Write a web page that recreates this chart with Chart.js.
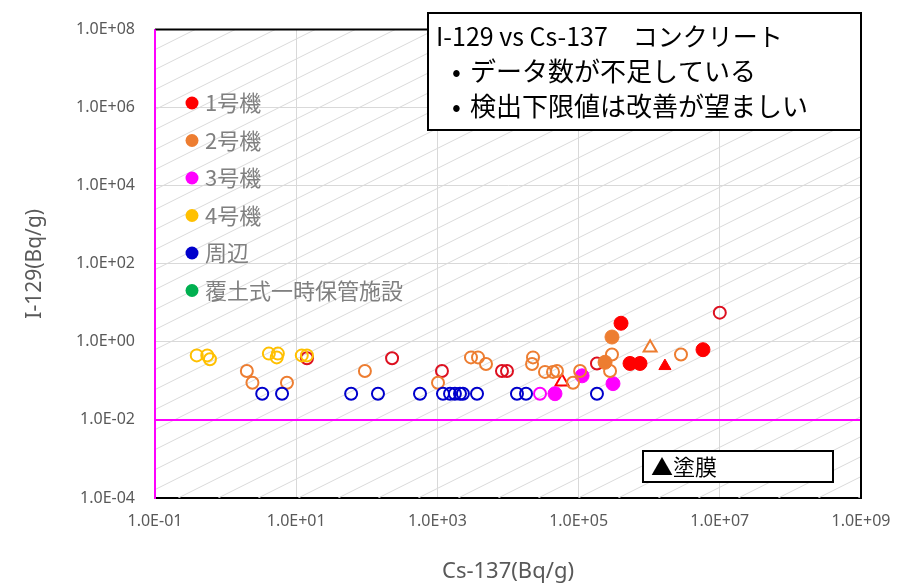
<!DOCTYPE html>
<html lang="ja">
<head>
<meta charset="utf-8">
<script src="https://cdn.jsdelivr.net/npm/chart.js@4.4.1/dist/chart.umd.min.js"></script>
<style>
  html, body { margin: 0; padding: 0; background: #fff; }
</style>
</head>
<body>
<canvas id="chartIodo" width="915" height="587"></canvas>
<script>
// ejes
const xTicks = [1e-1, 1e1, 1e3, 1e5, 1e7, 1e9];
const xTickLabels = ['1.0E-01', '1.0E+01', '1.0E+03', '1.0E+05', '1.0E+07', '1.0E+09'];
const yTicks = [1e-4, 1e-2, 1e0, 1e2, 1e4, 1e6, 1e8];
const yTickLabels = ['1.0E-04', '1.0E-02', '1.0E+00', '1.0E+02', '1.0E+04', '1.0E+06', '1.0E+08'];
const limiteDeteccion = 1e-2;

const nombres = ['1号機', '2号機', '3号機', '4号機', '周辺', '覆土式一時保管施設'];
const colores = ['#FF0000', '#ED7D31', '#FF00FF', '#FFC000', '#0000CC', '#00B050'];

// [Cs-137, I-129]
const unidad1Abierto = [[14.2, 0.38], [228, 0.38], [1160, 0.18], [8220, 0.18], [9680, 0.18], [182000, 0.28], [1.0e7, 5.6]];
const unidad1Lleno = [[399000, 3.0], [535000, 0.28], [741000, 0.28], [5.78e6, 0.63]];
const unidad1TriAbierto = [[58200, 0.095]];
const unidad1TriLleno = [[1.67e6, 0.24]];

const unidad2Abierto = [[2.0, 0.18], [2.4, 0.09], [7.4, 0.09], [94, 0.18], [1020, 0.09], [2990, 0.40], [3760, 0.40],
  [4880, 0.27], [22600, 0.40], [21900, 0.27], [33400, 0.17], [43400, 0.17], [49400, 0.18], [83400, 0.09],
  [105000, 0.18], [297000, 0.475], [279000, 0.18], [2.82e6, 0.475]];
const unidad2Lleno = [[297000, 1.33], [237000, 0.30]];
const unidad2TriAbierto = [[1.03e6, 0.71]];

const unidad3Abierto = [[28400, 0.047]];
const unidad3Lleno = [[46300, 0.047], [112000, 0.135], [307000, 0.085]];

const unidad4Abierto = [[0.39, 0.45], [0.55, 0.45], [0.60, 0.36], [4.1, 0.5], [5.5, 0.5], [5.3, 0.40], [12, 0.45], [14.2, 0.45]];

const alrededorAbierto = [[3.3, 0.047], [6.3, 0.047], [60, 0.047], [144, 0.047], [567, 0.047], [1200, 0.047], [1510, 0.047],
  [1770, 0.047], [2090, 0.047], [2300, 0.047], [3640, 0.047], [13400, 0.047], [18000, 0.047], [182000, 0.047]];
const almacenAbierto = [];

function puntos(lista) {
  return lista.map(p => ({ x: p[0], y: p[1] }));
}

function serie(lista, color, forma, lleno) {
  return {
    data: puntos(lista),
    pointStyle: forma,
    pointRadius: lleno ? 7 : (forma === 'triangle' ? 7.5 : 6),
    pointBorderWidth: lleno ? 1 : 2,
    pointBorderColor: color,
    pointBackgroundColor: lleno ? color : 'rgba(255,255,255,0)',
    showLine: false
  };
}

const fondo = {
  id: 'fondo',
  beforeDatasetsDraw(chart) {
    const { ctx, chartArea: a, scales } = chart;
    ctx.save();
    ctx.beginPath();
    ctx.rect(a.left, a.top, a.right - a.left, a.bottom - a.top);
    ctx.clip();
    ctx.strokeStyle = '#DADADA';
    ctx.lineWidth = 1;
    const h = a.bottom - a.top;
    for (let x0 = a.left - h * 2; x0 < a.right; x0 += 40) {
      ctx.beginPath();
      ctx.moveTo(x0, a.bottom);
      ctx.lineTo(x0 + h * 2, a.top);
      ctx.stroke();
    }
    ctx.restore();

    ctx.save();
    const yl = scales.y.getPixelForValue(limiteDeteccion);
    ctx.strokeStyle = '#FF00FF';
    ctx.lineWidth = 2;
    ctx.beginPath();
    ctx.moveTo(a.left, yl);
    ctx.lineTo(a.right, yl);
    ctx.stroke();
    ctx.strokeStyle = '#000';
    ctx.beginPath();
    ctx.moveTo(a.left, a.top);
    ctx.lineTo(a.right, a.top);
    ctx.lineTo(a.right, a.bottom);
    ctx.stroke();
    ctx.strokeStyle = '#FF00FF';
    ctx.beginPath();
    ctx.moveTo(a.left, a.top);
    ctx.lineTo(a.left, a.bottom);
    ctx.stroke();
    ctx.restore();
  },
  afterDraw(chart) {
    const ctx = chart.ctx;
    ctx.save();
    // leyenda
    ctx.textBaseline = 'middle';
    ctx.font = '22px "Noto Sans CJK JP"';
    nombres.forEach((n, i) => {
      const y = 103 + i * 37.5;
      ctx.fillStyle = colores[i];
      ctx.beginPath();
      ctx.arc(192, y, 6.5, 0, Math.PI * 2);
      ctx.fill();
      ctx.fillStyle = '#808080';
      ctx.fillText(n, 205, y);
    });

    // cuadro de texto
    ctx.fillStyle = '#fff';
    ctx.fillRect(428, 13, 433, 117);
    ctx.strokeStyle = '#000';
    ctx.lineWidth = 2;
    ctx.strokeRect(428, 13, 433, 117);
    ctx.fillStyle = '#000';
    ctx.font = '25px "Noto Sans CJK JP"';
    ctx.fillText('I-129 vs Cs-137\u3000コンクリート', 436, 36);
    ctx.font = '26px "Noto Sans CJK JP"';
    ctx.fillText('•', 452, 71);
    ctx.fillText('データ数が不足している', 470, 71);
    ctx.fillText('•', 452, 106);
    ctx.fillText('検出下限値は改善が望ましい', 470, 106);

    ctx.fillStyle = '#fff';
    ctx.fillRect(643, 451, 190, 31);
    ctx.strokeRect(643, 451, 190, 31);
    ctx.fillStyle = '#000';
    ctx.font = '22px "Noto Sans CJK JP"';
    ctx.fillText('▲塗膜', 651, 467);
    ctx.restore();
  }
};

const fuenteTicks = { family: '"Noto Sans"', size: 16 };

const ctx = document.getElementById('chartIodo');
let grafico = new Chart(ctx, {
  type: 'scatter',
  data: {
    datasets: [
      serie(alrededorAbierto, colores[4], 'circle', false),
      serie(almacenAbierto, colores[5], 'circle', false),
      serie(unidad4Abierto, colores[3], 'circle', false),
      serie(unidad2Abierto, colores[1], 'circle', false),
      serie(unidad2Lleno, colores[1], 'circle', true),
      serie(unidad2TriAbierto, colores[1], 'triangle', false),
      serie(unidad3Abierto, colores[2], 'circle', false),
      serie(unidad3Lleno, colores[2], 'circle', true),
      serie(unidad1Abierto, '#DD1020', 'circle', false),
      serie(unidad1Lleno, colores[0], 'circle', true),
      serie(unidad1TriAbierto, colores[0], 'triangle', false),
      serie(unidad1TriLleno, colores[0], 'triangle', true)
    ]
  },
  options: {
    responsive: false,
    animation: false,
    layout: { padding: { left: 0, right: 54, top: 15, bottom: 0 } },
    plugins: {
      legend: { display: false },
      tooltip: { enabled: false }
    },
    scales: {
      x: {
        type: 'logarithmic',
        min: 1e-1,
        max: 1e9,
        afterBuildTicks: s => { s.ticks = xTicks.map(v => ({ value: v })); },
        afterFit: s => { s.height = 89; },
        grid: { color: '#D9D9D9', drawTicks: false },
        border: { color: '#000', width: 2 },
        ticks: {
          autoSkip: false,
          maxRotation: 0,
          padding: 14,
          color: '#595959',
          font: fuenteTicks,
          callback: v => xTickLabels[xTicks.indexOf(v)]
        },
        title: {
          display: true,
          text: 'Cs-137(Bq/g)',
          color: '#595959',
          font: { family: '"Noto Sans"', size: 22 },
          padding: { top: 2, bottom: 2 }
        }
      },
      y: {
        type: 'logarithmic',
        min: 1e-4,
        max: 1e8,
        afterBuildTicks: s => { s.ticks = yTicks.map(v => ({ value: v })); },
        afterFit: s => { s.width = 155; },
        grid: { color: '#D9D9D9', drawTicks: false },
        border: { color: '#FF00FF', width: 2 },
        ticks: {
          autoSkip: false,
          padding: 20,
          color: '#595959',
          font: fuenteTicks,
          callback: v => yTickLabels[yTicks.indexOf(v)]
        },
        title: {
          display: true,
          text: 'I-129(Bq/g)',
          color: '#595959',
          font: { family: '"Noto Sans"', size: 21 },
          padding: { top: 22, bottom: 4 }
        }
      }
    }
  },
  plugins: [fondo]
});
</script>
</body>
</html>
